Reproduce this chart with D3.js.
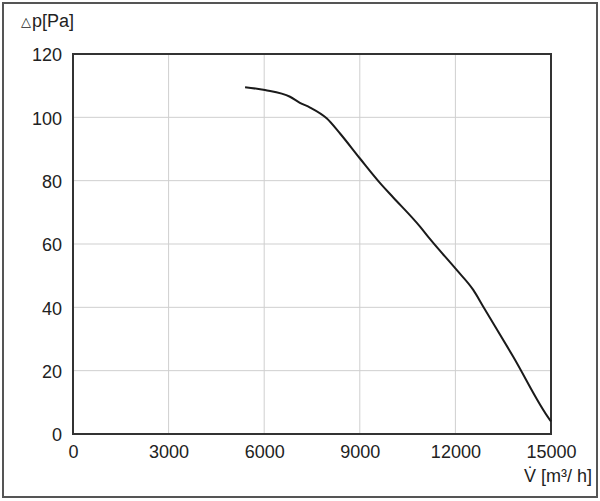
<!DOCTYPE html>
<html>
<head>
<meta charset="utf-8">
<script src="https://cdn.jsdelivr.net/npm/d3@7"></script>
<style>
html,body{margin:0;padding:0;background:#fff;}
svg{display:block;font-family:"Liberation Sans",Arial,Helvetica,sans-serif;}
</style>
</head>
<body>
<svg id="chart" width="600" height="501"></svg>
<script>
const flow = [5400, 6025, 6810, 7120, 7440, 7960, 8380, 9005, 9700, 10050, 10890, 11200, 12040, 12560, 12875, 13815, 14970, 15000];
const pressure = [109.5, 108.6, 106.5, 104.6, 103.1, 99.7, 94.9, 87.0, 78.5, 74.7, 65.5, 61.6, 51.8, 45.5, 40.2, 24.4, 4.4, 4.0];
const xTicks = [0, 3000, 6000, 9000, 12000, 15000];
const yTicks = [0, 20, 40, 60, 80, 100, 120];
const yTitle = "p[Pa]";
const xTitle = "V\u0307 [m\u00B3/ h]";

const svg = d3.select("#chart");
const L = 73, R = 551, T = 54, B = 434;
const x = d3.scaleLinear().domain([0, 15000]).range([L, R]);
const y = d3.scaleLinear().domain([0, 120]).range([B, T]);

// outer border
svg.append("rect").attr("x", 3).attr("y", 3).attr("width", 594).attr("height", 494)
  .attr("fill", "none").attr("stroke", "#555").attr("stroke-width", 2);

// grid
svg.append("g").selectAll("line").data(xTicks.slice(1, -1)).join("line")
  .attr("x1", d => x(d)).attr("x2", d => x(d)).attr("y1", T).attr("y2", B)
  .attr("stroke", "#cfcfcf").attr("stroke-width", 1);
svg.append("g").selectAll("line").data(yTicks.slice(1, -1)).join("line")
  .attr("x1", L).attr("x2", R).attr("y1", d => y(d)).attr("y2", d => y(d))
  .attr("stroke", "#cfcfcf").attr("stroke-width", 1);

// axes labels via d3 axes
const xAxis = d3.axisBottom(x).tickValues(xTicks).tickSize(0).tickPadding(11).tickFormat(d3.format("d"));
const gx = svg.append("g").attr("transform", `translate(0,${B})`).call(xAxis);
gx.select(".domain").remove();
gx.selectAll("text").attr("font-size", 18).attr("fill", "#222").attr("font-family", "Liberation Sans, Arial, sans-serif");

const yAxis = d3.axisLeft(y).tickValues(yTicks).tickSize(0).tickPadding(11).tickFormat(d3.format("d"));
const gy = svg.append("g").attr("transform", `translate(${L},0)`).call(yAxis);
gy.select(".domain").remove();
gy.selectAll("text").attr("font-size", 18).attr("fill", "#222").attr("font-family", "Liberation Sans, Arial, sans-serif").attr("dy", "0.38em");

// frame
svg.append("rect").attr("x", L).attr("y", T).attr("width", R - L).attr("height", B - T)
  .attr("fill", "none").attr("stroke", "#333").attr("stroke-width", 2);

// curve
const line = d3.line().x((d, i) => x(flow[i])).y((d, i) => y(pressure[i])).curve(d3.curveMonotoneX);
svg.append("path").datum(flow).attr("d", line)
  .attr("fill", "none").attr("stroke", "#1a1a1a").attr("stroke-width", 2);

// titles
const yt = svg.append("text").attr("x", 21).attr("y", 27).attr("font-size", 18).attr("fill", "#222");
yt.append("tspan").attr("font-size", 13).attr("font-family", "DejaVu Sans").attr("dy", "-1").text("\u25B3");
yt.append("tspan").attr("dy", "1").attr("dx", "1").text(yTitle);

svg.append("text").attr("x", 592).attr("y", 482).attr("text-anchor", "end")
  .attr("font-size", 18).attr("fill", "#222").text(xTitle);
</script>
</body>
</html>
